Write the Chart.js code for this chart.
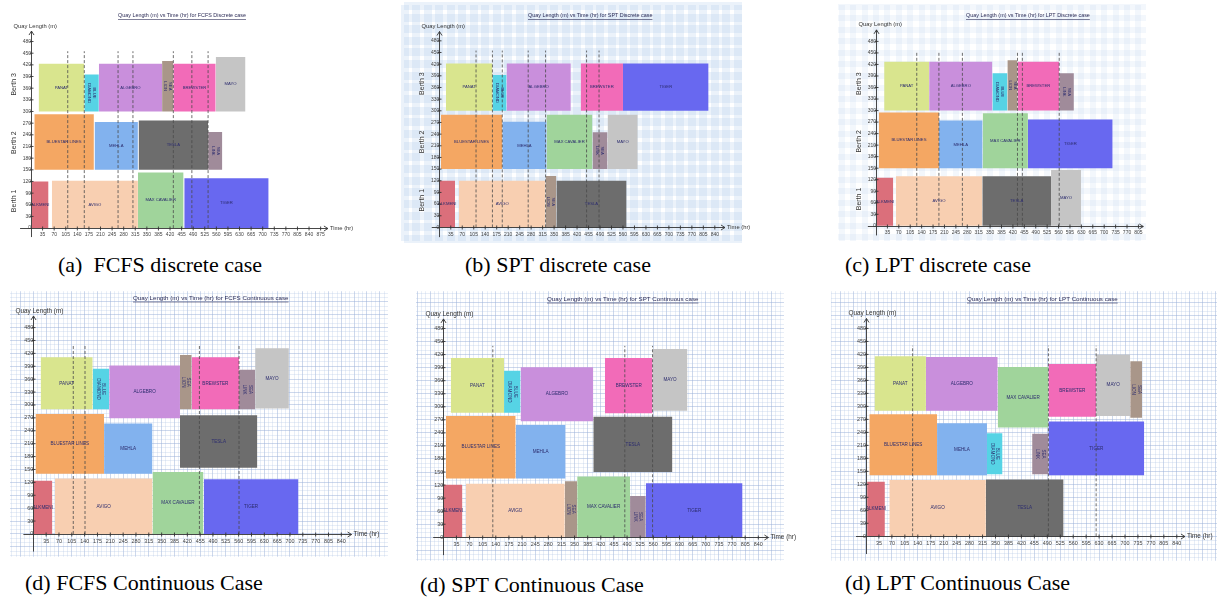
<!DOCTYPE html>
<html>
<head>
<meta charset="utf-8">
<script src="https://cdn.jsdelivr.net/npm/chart.js@4.4.1/dist/chart.umd.min.js"></script>
<style>
  body { margin: 0; width: 1218px; height: 599px; background: #fff; position: relative; overflow: hidden; }
  canvas { position: absolute; }
  .cap { position: absolute; font-family: "Liberation Serif", "Times New Roman", serif; font-size: 22px; color: #000; white-space: nowrap; }
</style>
</head>
<body>
<div class="cap" style="left:58px;top:252px">(a)&nbsp; FCFS discrete case</div>
<div class="cap" style="left:465px;top:252px">(b) SPT discrete case</div>
<div class="cap" style="left:845px;top:252px">(c) LPT discrete case</div>
<div class="cap" style="left:25px;top:570px">(d) FCFS Continuous Case</div>
<div class="cap" style="left:420px;top:572px">(d) SPT Continuous Case</div>
<div class="cap" style="left:845px;top:570px">(d) LPT Continuous Case</div>

<script>
const SANS = '"Liberation Sans", Arial, sans-serif';

// axis tick labels
const timeTicks = [35, 70, 105, 140, 175, 210, 245, 280, 315, 350, 385, 420, 455, 490, 525, 560, 595, 630, 665, 700, 735, 770, 805, 840, 875];
const quayTicks = [0, 30, 60, 90, 120, 150, 180, 210, 240, 270, 300, 330, 360, 390, 420, 450, 480];
const berthNames = ['Berth 1', 'Berth 2', 'Berth 3'];
const berthMiddles = [70, 220, 370];

// rows: [ship, start (hr), finish (hr), quay from (m), quay to (m)]
const fcfsDiscrete = [
  ['ALKMENI', 3, 53, 0, 120],
  ['AVIGO', 63, 323, 0, 122],
  ['MAX CAVALIER', 323, 461, 0, 143],
  ['TIGER', 463, 718, 0, 128],
  ['BLUESTAR LINES', 10, 190, 150, 293],
  ['MEHLA', 192, 323, 150, 273],
  ['TESLA', 325, 535, 150, 277],
  ['SEA LINK', 535, 578, 150, 247],
  ['PANAT', 23, 161, 300, 423],
  ['BLUE DIAMOND', 161, 205, 300, 395],
  ['ALGEBRO', 205, 396, 300, 423],
  ['SEA LION', 396, 430, 300, 430],
  ['BREWSTER', 430, 558, 300, 423],
  ['MAYO', 558, 648, 300, 440]
];
const fcfsDiscreteDashes = [111, 161, 263, 308, 430, 486, 535];

const sptDiscrete = [
  ['ALKMENI', 0, 48, 0, 120],
  ['AVIGO', 60, 324, 0, 120],
  ['SEA LION', 324, 357, 0, 132],
  ['TESLA', 357, 571, 0, 120],
  ['BLUESTAR LINES', 5, 192, 150, 290],
  ['MEHLA', 192, 327, 150, 272],
  ['MAX CAVALIER', 327, 467, 150, 290],
  ['SEA LINK', 467, 513, 150, 245],
  ['MAYO', 513, 605, 150, 290],
  ['PANAT', 20, 162, 300, 422],
  ['BLUE DIAMOND', 162, 205, 300, 392],
  ['ALGEBRO', 205, 401, 300, 422],
  ['BREWSTER', 431, 560, 300, 422],
  ['TIGER', 560, 821, 300, 422]
];
const sptDiscreteDashes = [112, 162, 192, 271, 324, 449, 487];

const lptDiscrete = [
  ['ALKMENI', 2, 53, 0, 125],
  ['AVIGO', 61, 326, 0, 129],
  ['TESLA', 326, 537, 0, 129],
  ['MAYO', 537, 629, 0, 145],
  ['BLUESTAR LINES', 9, 193, 150, 295],
  ['MEHLA', 193, 327, 150, 274],
  ['MAX CAVALIER', 327, 466, 150, 293],
  ['TIGER', 466, 726, 150, 277],
  ['PANAT', 25, 163, 300, 427],
  ['ALGEBRO', 163, 357, 300, 427],
  ['BLUE DIAMOND', 357, 403, 300, 397],
  ['SEA LION', 403, 434, 300, 431],
  ['BREWSTER', 434, 562, 300, 427],
  ['SEA LINK', 562, 607, 300, 397]
];
const lptDiscreteDashes = [125, 193, 265, 434, 449, 562];

const fcfsContinuous = [
  ['ALKMENI', 0, 52, 0, 124],
  ['AVIGO', 59, 325, 0, 129],
  ['MAX CAVALIER', 325, 464, 0, 144],
  ['TIGER', 465, 723, 0, 127],
  ['BLUESTAR LINES', 6, 193, 140, 279],
  ['MEHLA', 193, 325, 140, 257],
  ['TESLA', 400, 611, 154, 276],
  ['PANAT', 20, 162, 290, 411],
  ['BLUE DIAMOND', 162, 207, 290, 384],
  ['ALGEBRO', 207, 400, 269, 392],
  ['SEA LION', 400, 432, 290, 416],
  ['BREWSTER', 432, 561, 290, 411],
  ['SEA LINK', 561, 605, 290, 382],
  ['MAYO', 605, 697, 292, 432]
];
const fcfsContinuousDashes = [109, 141, 453, 561];

const sptContinuous = [
  ['ALKMENI', 0, 51, 0, 121],
  ['AVIGO', 60, 324, 0, 123],
  ['SEA LION', 324, 357, 0, 129],
  ['MAX CAVALIER', 357, 498, 0, 140],
  ['SEA LINK', 498, 540, 0, 95],
  ['TIGER', 540, 798, 0, 124],
  ['BLUESTAR LINES', 7, 193, 135, 279],
  ['MEHLA', 193, 326, 135, 258],
  ['TESLA', 400, 611, 150, 277],
  ['PANAT', 20, 162, 286, 412],
  ['BLUE DIAMOND', 162, 206, 286, 383],
  ['ALGEBRO', 206, 400, 267, 391],
  ['BREWSTER', 431, 558, 285, 412],
  ['MAYO', 558, 651, 291, 433]
];
const sptContinuousDashes = [132, 484, 558];

const lptContinuous = [
  ['ALKMENI', 3, 51, 0, 126],
  ['AVIGO', 63, 324, 0, 130],
  ['TESLA', 324, 534, 0, 131],
  ['BLUESTAR LINES', 9, 192, 141, 282],
  ['MEHLA', 192, 327, 141, 261],
  ['BLUE DIAMOND', 327, 369, 143, 238],
  ['SEA LINK', 449, 493, 143, 237],
  ['TIGER', 493, 752, 141, 265],
  ['PANAT', 23, 162, 290, 416],
  ['ALGEBRO', 162, 356, 290, 414],
  ['MAX CAVALIER', 356, 493, 251, 391],
  ['BREWSTER', 493, 622, 276, 398],
  ['MAYO', 622, 714, 278, 420],
  ['SEA LION', 714, 746, 274, 404]
];
const lptContinuousDashes = [126, 493, 622];

const shipColors = {
  'ALKMENI': '#db6f7b', 'AVIGO': '#f8cfb1', 'MAX CAVALIER': '#a0d49b', 'TIGER': '#6868f0',
  'BLUESTAR LINES': '#f4a763', 'MEHLA': '#82b2ee', 'TESLA': '#6d6d6d', 'SEA LINK': '#a08b9a',
  'PANAT': '#d9e58e', 'BLUE DIAMOND': '#56d3e5', 'ALGEBRO': '#c98fdc', 'SEA LION': '#a99689',
  'BREWSTER': '#f26bb8', 'MAYO': '#c5c5c5'
};

const gridStyles = {
  none: null,
  haze: { minor: 'rgba(170,200,236,0.24)', major: 'rgba(170,200,236,0.24)', minorW: 8, majorW: 8 },
  faint: { minor: 'rgba(180,205,236,0.16)', major: 'rgba(180,205,236,0.16)', minorW: 6, majorW: 6 },
  paper: { minor: 'rgba(170,190,225,0.45)', major: 'rgba(150,172,215,0.6)', minorW: 0.6, majorW: 0.8 }
};

const panels = [
  { rows: fcfsDiscrete, dashes: fcfsDiscreteDashes, title: 'Quay Length (m) vs Time (hr) for FCFS Discrete case',
    titleAt: [118, 16], area: [8, 4, 336, 242], origin: [31, 229], unit: [0.331, 0.392],
    xAxis: [-33, 897], yAxis: [-23, 507], xLabelMax: 875, dashTop: 455, style: 'none', berths: true, time: true, small: true },
  { rows: sptDiscrete, dashes: sptDiscreteDashes, title: 'Quay Length (m) vs Time (hr) for SPT Discrete case',
    titleAt: [528, 16], area: [404, 4, 742, 242], origin: [439.3, 228.3], unit: [0.328, 0.392],
    xAxis: [-23, 871], yAxis: [-25, 504], xLabelMax: 840, dashTop: 455, style: 'haze', berths: true, time: true, small: true },
  { rows: lptDiscrete, dashes: lptDiscreteDashes, title: 'Quay Length (m) vs Time (hr) for LPT Discrete case',
    titleAt: [966, 16], area: [838, 4, 1146, 242], origin: [876, 226.7], unit: [0.326, 0.3875],
    xAxis: [-25, 820], yAxis: [-25, 510], xLabelMax: 805, dashTop: 455, style: 'faint', berths: true, time: false, small: true },
  { rows: fcfsContinuous, dashes: fcfsContinuousDashes, title: 'Quay Length (m) vs Time (hr) for FCFS Continuous case',
    titleAt: [133, 298], area: [10, 290, 388, 558], origin: [33.3, 535], unit: [0.3667, 0.434],
    xAxis: [-27, 868], yAxis: [-41, 507], xLabelMax: 840, dashTop: 440, style: 'paper', berths: false, time: true, small: false },
  { rows: sptContinuous, dashes: sptContinuousDashes, title: 'Quay Length (m) vs Time (hr) for SPT Continuous case',
    titleAt: [547, 299], area: [416, 290, 784, 562], origin: [443.3, 538.3], unit: [0.375, 0.439],
    xAxis: [-27, 867], yAxis: [-41, 502], xLabelMax: 840, dashTop: 440, style: 'paper', berths: false, time: true, small: false },
  { rows: lptContinuous, dashes: lptContinuousDashes, title: 'Quay Length (m) vs Time (hr) for LPT Continuous case',
    titleAt: [967, 299], area: [831, 290, 1217, 562], origin: [866, 537.3], unit: [0.37, 0.437],
    xAxis: [-27, 862], yAxis: [-41, 503], xLabelMax: 840, dashTop: 440, style: 'paper', berths: false, time: true, small: false }
];

const near = (list, v) => list.some(t => Math.abs(t - v) < 1e-6);

function drawName(ctx, name, x0, x1, y0, y1, size) {
  const lines = name.split(' ');
  const room = Math.abs(x1 - x0) + (lines.length > 1 ? 0 : 4);
  ctx.save();
  ctx.translate((x0 + x1) / 2, (y0 + y1) / 2);
  if (ctx.measureText(name).width > room) {
    ctx.rotate(Math.PI / 2);
    lines.forEach((t, i) => ctx.fillText(t, 0, (i - (lines.length - 1) / 2) * size * 1.2));
  } else {
    ctx.fillText(name, 0, 0);
  }
  ctx.restore();
}

function makeDecor(p, left, top) {
  const f = p.small
    ? { name: 4.2, title: 5.4, axis: 5.8, berth: 7 }
    : { name: 4.6, title: 6.2, axis: 6.4, berth: 7 };
  const xLabels = timeTicks.filter(v => v <= p.xLabelMax);
  return {
    id: 'decor',
    afterDatasetsDraw(chart) {
      const ctx = chart.ctx, xs = chart.scales.x, ys = chart.scales.y;
      ctx.save();
      ctx.fillStyle = '#2c2c6e';
      ctx.font = f.name + 'px ' + SANS;
      ctx.textAlign = 'center';
      ctx.textBaseline = 'middle';
      p.rows.forEach(r => drawName(ctx, r[0],
        xs.getPixelForValue(r[1]), xs.getPixelForValue(r[2]),
        ys.getPixelForValue(r[3]), ys.getPixelForValue(r[4]), f.name));
      ctx.restore();
    },
    afterDraw(chart) {
      const ctx = chart.ctx, xs = chart.scales.x, ys = chart.scales.y;
      const X0 = Math.round(xs.getPixelForValue(0)) + 0.5;
      const Y0 = Math.round(ys.getPixelForValue(0)) + 0.5;
      const xa = xs.getPixelForValue(p.xAxis[0]), xe = xs.getPixelForValue(p.xAxis[1]);
      const yb = ys.getPixelForValue(p.yAxis[0]), yt = ys.getPixelForValue(p.yAxis[1]);
      ctx.save();
      ctx.strokeStyle = '#333';
      ctx.lineWidth = 0.9;
      ctx.beginPath();
      ctx.moveTo(xa, Y0); ctx.lineTo(xe, Y0);
      ctx.moveTo(xe - 4, Y0 - 2.5); ctx.lineTo(xe, Y0); ctx.lineTo(xe - 4, Y0 + 2.5);
      ctx.moveTo(X0, yb); ctx.lineTo(X0, yt);
      ctx.moveTo(X0 - 2.5, yt + 4); ctx.lineTo(X0, yt); ctx.lineTo(X0 + 2.5, yt + 4);
      xLabels.forEach(v => {
        const x = xs.getPixelForValue(v);
        ctx.moveTo(x, Y0 - 2); ctx.lineTo(x, Y0 + 2);
      });
      quayTicks.filter(v => v > 0).forEach(v => {
        const y = ys.getPixelForValue(v);
        ctx.moveTo(X0 - 2, y); ctx.lineTo(X0 + 2, y);
      });
      ctx.stroke();

      ctx.fillStyle = '#333';
      ctx.font = f.axis + 'px ' + SANS;
      ctx.textBaseline = 'middle';
      ctx.textAlign = 'left';
      if (p.time) ctx.fillText('Time (hr)', xe + 2, Y0);
      ctx.fillText('Quay Length (m)', X0 - 18, yt - 5);

      // underlined title
      ctx.fillStyle = '#2b2b55';
      ctx.strokeStyle = '#2b2b55';
      ctx.font = f.title + 'px ' + SANS;
      const tx = p.titleAt[0] - left, ty = p.titleAt[1] - top;
      ctx.fillText(p.title, tx, ty);
      const tw = ctx.measureText(p.title).width;
      ctx.lineWidth = 0.6;
      ctx.beginPath();
      ctx.moveTo(tx, ty + f.title * 0.65); ctx.lineTo(tx + tw, ty + f.title * 0.65);
      ctx.stroke();

      if (p.berths) {
        ctx.fillStyle = '#333';
        ctx.font = f.berth + 'px ' + SANS;
        ctx.textAlign = 'center';
        berthNames.forEach((b, i) => {
          ctx.save();
          ctx.translate(X0 - 17, ys.getPixelForValue(berthMiddles[i]));
          ctx.rotate(-Math.PI / 2);
          ctx.fillText(b, 0, 0);
          ctx.restore();
        });
      }
      ctx.restore();
    }
  };
}

function buildPanel(p) {
  const [ax0, ay0, ax1, ay1] = p.area;
  const [ox, oy] = p.origin;
  const [kx, ky] = p.unit;
  const pad = { left: 6, top: 6, right: 42, bottom: 6 };
  const w = ax1 - ax0 + pad.left + pad.right;
  const h = ay1 - ay0 + pad.top + pad.bottom;
  const left = ax0 - pad.left, top = ay0 - pad.top;

  const canvas = document.createElement('canvas');
  canvas.width = w; canvas.height = h;
  canvas.style.left = left + 'px'; canvas.style.top = top + 'px';
  canvas.style.width = w + 'px'; canvas.style.height = h + 'px';
  document.body.appendChild(canvas);

  const xMin = (ax0 - ox) / kx, xMax = (ax1 - ox) / kx;
  const yMax = (oy - ay0) / ky, yMin = (oy - ay1) / ky;
  const xLabels = timeTicks.filter(v => v <= p.xLabelMax);
  const gs = gridStyles[p.style];
  const paper = p.style === 'paper';
  const xDiv = paper ? 3 : 1, yStep = paper ? 10 : 30;
  const xVals = [], yVals = [];
  for (let i = Math.ceil(xMin * xDiv / 35); (i * 35) / xDiv <= xMax; i++) xVals.push((i * 35) / xDiv);
  for (let i = Math.ceil(yMin / yStep); i * yStep <= yMax; i++) yVals.push(i * yStep);
  const isMajorX = v => Math.abs(v / 35 - Math.round(v / 35)) < 1e-6;
  const isMajorY = v => Math.abs(v / 30 - Math.round(v / 30)) < 1e-6;

  const datasets = [];
  p.dashes.forEach(x => datasets.push({
    data: [{ x: x, y: 0 }, { x: x, y: p.dashTop }],
    borderColor: '#4a4a4a', borderWidth: 0.8, borderDash: [3, 2],
    pointRadius: 0, fill: false
  }));
  p.rows.forEach(r => datasets.push({
    data: [{ x: r[1], y: r[4] }, { x: r[2], y: r[4] }],
    fill: { value: r[3] },
    backgroundColor: shipColors[r[0]],
    borderColor: 'rgba(0,0,0,0)', borderWidth: 0, pointRadius: 0
  }));

  const tickFont = { size: p.small ? 5 : 5.4, family: SANS };
  new Chart(canvas, {
    type: 'line',
    data: { datasets: datasets },
    options: {
      responsive: false,
      animation: false,
      events: [],
      layout: { padding: pad },
      elements: { line: { tension: 0 } },
      plugins: { legend: { display: false }, tooltip: { enabled: false } },
      scales: {
        x: {
          type: 'linear', min: xMin, max: xMax, position: { y: 0 },
          afterBuildTicks: s => { s.ticks = xVals.map(v => ({ value: v })); },
          border: { display: false },
          grid: {
            display: !!gs, drawTicks: false,
            color: c => gs && isMajorX(c.tick.value) ? gs.major : (gs ? gs.minor : 'transparent'),
            lineWidth: c => gs && isMajorX(c.tick.value) ? gs.majorW : (gs ? gs.minorW : 0)
          },
          ticks: {
            autoSkip: false, maxRotation: 0, minRotation: 0, padding: 4,
            font: tickFont, color: '#444',
            callback: v => near(xLabels, v) ? String(Math.round(v)) : ''
          }
        },
        y: {
          type: 'linear', min: yMin, max: yMax, position: { x: 0 },
          afterBuildTicks: s => { s.ticks = yVals.map(v => ({ value: v })); },
          border: { display: false },
          grid: {
            display: !!gs, drawTicks: false,
            color: c => gs && isMajorY(c.tick.value) ? gs.major : (gs ? gs.minor : 'transparent'),
            lineWidth: c => gs && isMajorY(c.tick.value) ? gs.majorW : (gs ? gs.minorW : 0)
          },
          ticks: {
            autoSkip: false, padding: 4,
            font: tickFont, color: '#444',
            callback: v => near(quayTicks, v) ? String(Math.round(v)) : ''
          }
        }
      }
    },
    plugins: [makeDecor(p, left, top)]
  });
}

panels.forEach(buildPanel);
</script>
</body>
</html>
